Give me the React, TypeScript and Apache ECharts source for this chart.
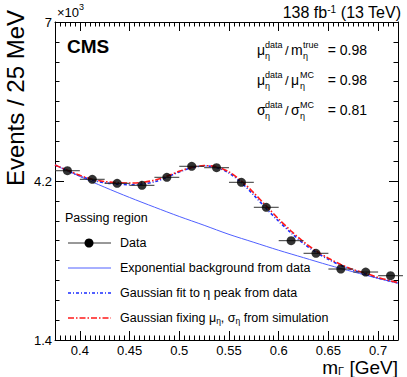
import React, { useEffect, useRef } from "react";
import * as echarts from "echarts";

// ---- data (events per 25 MeV bin) ----
const dataX = [0.3875, 0.4125, 0.4375, 0.4625, 0.4875, 0.5125, 0.5375, 0.5625, 0.5875, 0.6125, 0.6375, 0.6625, 0.6875, 0.7125];
const dataY = [4381, 4230, 4159, 4124, 4265, 4459, 4434, 4177, 3737, 3149, 2927, 2650, 2597, 2532];
const binHalfWidth = 0.0125;

// exponential background from data
const bgX = [0.375, 0.4, 0.425, 0.45, 0.475, 0.5, 0.525, 0.55, 0.575, 0.6, 0.625, 0.65, 0.675, 0.7, 0.72];
const bgY = [4480, 4280, 4090, 3910, 3740, 3575, 3420, 3260, 3120, 2980, 2850, 2720, 2600, 2485, 2400];

// signal + background curves
const curveX = [0.375, 0.3875, 0.4, 0.4125, 0.425, 0.4375, 0.45, 0.4625, 0.475, 0.4875, 0.5, 0.5125, 0.525, 0.5375, 0.55, 0.5625, 0.575, 0.5875, 0.6, 0.6125, 0.625, 0.6375, 0.65, 0.6625, 0.675, 0.6875, 0.7, 0.72];
const fitY = [4480, 4385, 4290, 4215, 4170, 4145, 4135, 4145, 4185, 4265, 4360, 4435, 4465, 4440, 4340, 4170, 3950, 3715, 3490, 3285, 3100, 2945, 2820, 2715, 2630, 2560, 2492, 2405];
const fixY = [4480, 4390, 4300, 4230, 4190, 4170, 4165, 4175, 4215, 4285, 4370, 4440, 4470, 4450, 4360, 4200, 3990, 3760, 3530, 3320, 3130, 2970, 2840, 2730, 2640, 2575, 2500, 2410];

const xMin = 0.375;
const xMax = 0.72;
const yMin = 1400;
const yMax = 7000;
const yStep = 2800;

const legendLabels = [
  "Data",
  "Exponential background from data",
  "Gaussian fit to η peak from data",
  "Gaussian fixing μ{sub|η}, σ{sub|η} from simulation",
];

const FONT = "'Liberation Sans', Arial, Helvetica, sans-serif";
const BG_COLOR = "#5060ff";
const FIT_COLOR = "#1a2cff";
const FIX_COLOR = "#ff1a1a";

function txt(x: number, y: number, text: string, size: number, extra: any = {}) {
  return {
    type: "text",
    x,
    y,
    silent: true,
    style: {
      text,
      fontSize: size,
      fontFamily: FONT,
      fill: "#000",
      verticalAlign: "middle",
      align: "left",
      ...extra,
    },
  };
}

function ratioLine(y: number, a: string, aSup: string, b: string, bSup: string, val: string, bX: number, bSupX: number) {
  const out: any[] = [];
  out.push(txt(257, y, a, 14));
  out.push(txt(265, y - 5, aSup, 9));
  out.push(txt(265, y + 6, "η", 9));
  out.push(txt(285, y, "/", 13));
  out.push(txt(bX, y, b, 14));
  out.push(txt(bSupX, y - 5, bSup, 9));
  out.push(txt(bSupX, y + 6, "η", 9));
  out.push(txt(367, y, val, 14, { align: "right" }));
  return out;
}

function axisCommon(extra: any) {
  return {
    type: "value",
    splitLine: { show: false },
    axisLine: { show: true, onZero: false, lineStyle: { color: "#000", width: 1 } },
    axisTick: { show: true, inside: true, length: 9, lineStyle: { color: "#000", width: 1 } },
    minorTick: { show: true, length: 4.5, lineStyle: { color: "#000", width: 1 } },
    ...extra,
  };
}

export default function App() {
  const ref = useRef<HTMLDivElement>(null);
  useEffect(() => {
    document.body.style.margin = "0";
    if (!ref.current) return;
    const chart = echarts.init(ref.current, undefined, { renderer: "svg" });

    const xAxisBase = { min: xMin, max: xMax, splitNumber: 7 };
    const yAxisBase = { min: yMin, max: yMax, interval: yStep };

    const legendYs = [243, 268, 293, 318];
    const legendGraphics: any[] = [];
    legendGraphics.push(txt(65, 218, "Passing region", 12.5));
    legendGraphics.push({ type: "line", silent: true, shape: { x1: 68, y1: legendYs[0], x2: 111, y2: legendYs[0] }, style: { stroke: "#333", lineWidth: 1 } });
    legendGraphics.push({ type: "circle", silent: true, shape: { cx: 89, cy: legendYs[0], r: 4.5 }, style: { fill: "#000" } });
    legendGraphics.push({ type: "line", silent: true, shape: { x1: 68, y1: legendYs[1], x2: 111, y2: legendYs[1] }, style: { stroke: BG_COLOR, lineWidth: 1 } });
    legendGraphics.push({ type: "line", silent: true, shape: { x1: 68, y1: legendYs[2], x2: 111, y2: legendYs[2] }, style: { stroke: FIT_COLOR, lineWidth: 1.6, lineDash: [3, 2, 1, 2] } });
    legendGraphics.push({ type: "line", silent: true, shape: { x1: 68, y1: legendYs[3], x2: 111, y2: legendYs[3] }, style: { stroke: FIX_COLOR, lineWidth: 1.6, lineDash: [6, 2, 1.5, 2] } });
    legendLabels.forEach((l, i) => {
      legendGraphics.push(
        txt(120, legendYs[i], l, 12.5, {
          rich: {
            sub: { fontSize: 8.5, fontFamily: FONT, verticalAlign: "bottom", padding: [6, 0, 0, 0] },
          },
        })
      );
    });

    const option: any = {
      animation: false,
      backgroundColor: "#fff",
      textStyle: { fontFamily: FONT },
      grid: { left: 55, right: 9, top: 22, bottom: 37 },
      xAxis: [
        axisCommon({
          ...xAxisBase,
          position: "bottom",
          minorTick: { show: true, splitNumber: 10, length: 4.5, lineStyle: { color: "#000", width: 1 } },
          axisLabel: {
            show: true,
            fontSize: 13,
            color: "#000",
            fontFamily: FONT,
            margin: 4,
            showMinLabel: false,
            showMaxLabel: false,
            formatter: (v: number) => String(+v.toFixed(2)),
          },
        }),
        axisCommon({
          ...xAxisBase,
          position: "top",
          minorTick: { show: true, splitNumber: 10, length: 4.5, lineStyle: { color: "#000", width: 1 } },
          axisLabel: { show: false },
        }),
      ],
      yAxis: [
        axisCommon({
          ...yAxisBase,
          position: "left",
          minorTick: { show: true, splitNumber: 8, length: 4.5, lineStyle: { color: "#000", width: 1 } },
          axisLabel: {
            show: true,
            fontSize: 13,
            color: "#000",
            fontFamily: FONT,
            margin: 3,
            formatter: (v: number) => String(+(v / 1000).toFixed(1)),
          },
        }),
        axisCommon({
          ...yAxisBase,
          position: "right",
          minorTick: { show: true, splitNumber: 8, length: 4.5, lineStyle: { color: "#000", width: 1 } },
          axisLabel: { show: false },
        }),
      ],
      series: [
        {
          name: "Exponential background from data",
          type: "line",
          xAxisIndex: 0,
          yAxisIndex: 0,
          data: bgX.map((x, i) => [x, bgY[i]]),
          showSymbol: false,
          smooth: 0.3,
          lineStyle: { color: BG_COLOR, width: 1 },
          z: 2,
        },
        {
          name: "Gaussian fit to η peak from data",
          type: "line",
          xAxisIndex: 0,
          yAxisIndex: 0,
          data: curveX.map((x, i) => [x, fitY[i]]),
          showSymbol: false,
          smooth: 0.3,
          lineStyle: { color: FIT_COLOR, width: 1.6, type: [3, 2, 1, 2] },
          z: 3,
        },
        {
          name: "Gaussian fixing",
          type: "line",
          xAxisIndex: 0,
          yAxisIndex: 0,
          data: curveX.map((x, i) => [x, fixY[i]]),
          showSymbol: false,
          smooth: 0.3,
          lineStyle: { color: FIX_COLOR, width: 1.6, type: [6, 2, 1.5, 2] },
          z: 4,
        },
        {
          name: "Data errors",
          type: "custom",
          xAxisIndex: 0,
          yAxisIndex: 0,
          data: dataX.map((x, i) => [x, dataY[i]]),
          encode: { x: 0, y: 1 },
          renderItem: (params: any, api: any) => {
            const x = api.value(0);
            const y = api.value(1);
            const p1 = api.coord([x - binHalfWidth, y]);
            const p2 = api.coord([x + binHalfWidth, y]);
            return {
              type: "line",
              shape: { x1: p1[0], y1: p1[1], x2: p2[0], y2: p2[1] },
              style: { stroke: "#333", lineWidth: 1 },
            };
          },
          z: 5,
        },
        {
          name: "Data",
          type: "scatter",
          xAxisIndex: 0,
          yAxisIndex: 0,
          data: dataX.map((x, i) => [x, dataY[i]]),
          symbol: "circle",
          symbolSize: 9,
          itemStyle: { color: "#000" },
          z: 6,
        },
      ],
      graphic: [
        txt(67, 46, "CMS", 19, { fontWeight: "bold" }),
        txt(401, 12, "138 fb{sup|-1} (13 TeV)", 16, {
          align: "right",
          rich: { sup: { fontSize: 10, fontFamily: FONT, verticalAlign: "top" } },
        }),
        txt(57, 12, "×10", 13),
        txt(79, 7, "3", 9),
        {
          type: "text",
          x: 15,
          y: 10,
          rotation: Math.PI / 2,
          silent: true,
          style: {
            text: "Events / 25 MeV",
            fontSize: 24,
            fontFamily: FONT,
            fill: "#000",
            align: "right",
            verticalAlign: "middle",
          },
        },
        txt(398, 367, "m{sub|Γ} [GeV]", 19, {
          align: "right",
          rich: { sub: { fontSize: 11, fontFamily: FONT, verticalAlign: "bottom", padding: [8, 0, 0, 0] } },
        }),
        ...ratioLine(50, "μ", "data", "m", "true", "= 0.98", 291, 303),
        ...ratioLine(80, "μ", "data", "μ", "MC", "= 0.98", 291, 300),
        ...ratioLine(110, "σ", "data", "σ", "MC", "= 0.81", 291, 300),
        ...legendGraphics,
      ],
    };
    chart.setOption(option);
    return () => chart.dispose();
  }, []);
  return <div ref={ref} style={{ width: 407, height: 377 }} />;
}
